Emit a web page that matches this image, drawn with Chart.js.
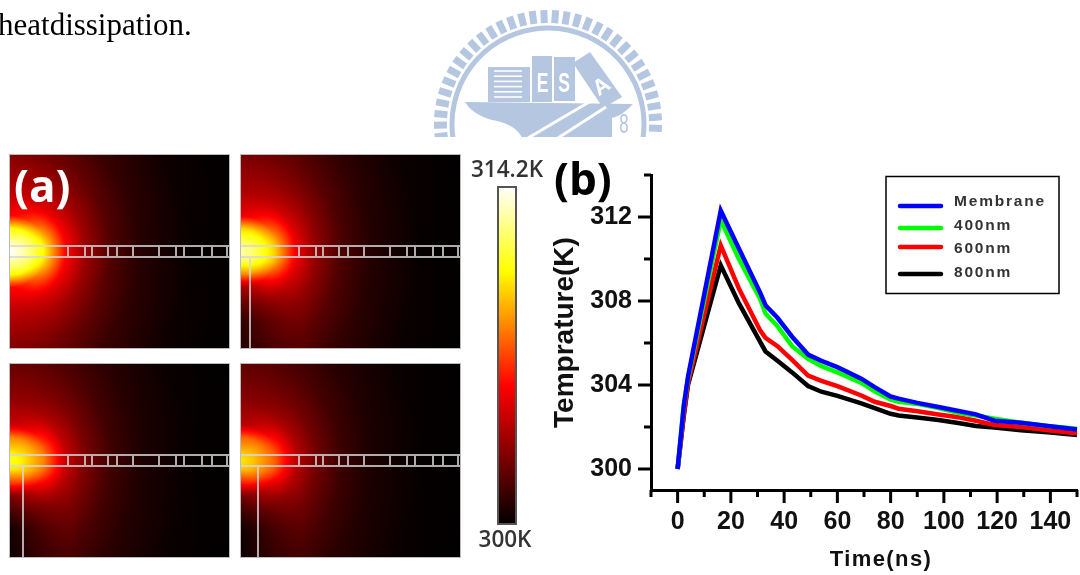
<!DOCTYPE html>
<html><head><meta charset="utf-8">
<style>html,body{margin:0;padding:0;background:#fff;overflow:hidden}canvas{display:block;filter:blur(.4px)}</style>
<script src="https://cdn.jsdelivr.net/npm/chart.js@4"></script></head>
<body><canvas id="c" width="1080" height="575"></canvas>
<script>
const timeNs=[0,2.3,3.9,16.2,23,31,33,37.5,43,49,54,60,69,74,80,83,90,98,106,112,119,129,139,150];
const membrane=[300,303,304.4,312.3,310.5,308.4,307.8,307.2,306.3,305.45,305.15,304.85,304.3,303.9,303.45,303.35,303.15,302.95,302.75,302.6,302.3,302.2,302.05,301.88];
const nm400=[300,303,304.3,311.85,310,308.1,307.4,306.8,305.85,305.25,304.9,304.6,304.1,303.7,303.3,303.2,303.1,302.9,302.65,302.55,302.4,302.2,302.05,301.92];
const nm600=[300,302.6,304.1,310.65,308.6,306.6,306.25,305.85,305.2,304.45,304.2,303.95,303.5,303.2,303,302.87,302.75,302.6,302.45,302.3,302.1,302,301.85,301.7];
const nm800=[300,302.5,304,309.7,307.9,306.05,305.6,305.15,304.6,303.95,303.68,303.48,303.13,302.9,302.63,302.55,302.45,302.33,302.18,302.05,301.98,301.85,301.75,301.62];
const seriesNames=['Membrane','400nm','600nm','800nm'];
const seriesColors=['#0000ff','#00ff00','#ff0000','#000000'];
const xTicks=[-10,0,10,20,30,40,50,60,70,80,90,100,110,120,130,140,150];
const xLabelled=[0,20,40,60,80,100,120,140];
const yTicks=[300,302,304,306,308,310,312,314];
const yLabelled=[300,304,308,312];
const alongRadii=[0,12,33,55,75,100,130,180,240];
const alongLevels=[1,.93,.75,.41,.25,.13,.06,.012,0];
const acrossRadii=[0,8,23,36,60,96,130,180,240];
const acrossLevels=[1,.93,.75,.41,.3,.21,.13,.05,.005];
const panelBoxes=[[10,155],[241,155],[10,364],[241,364]];
const panelPeak=[1,.92,.78,.72];
const panelLower=[1,.3,.15,.12];
const panelSupport=[null,9,13,17];
const beamBars=[58,75,82,98,107,123,149,166,174,192,202,217];
const colorStops=[[0,0,0,0],[.41,255,0,0],[.75,255,255,0],[1,255,255,255]];

function cmap(l){l=Math.max(0,Math.min(1,l));for(let i=1;i<colorStops.length;i++){const a=colorStops[i-1],b=colorStops[i];if(l<=b[0]){const t=(l-a[0])/(b[0]-a[0]);return [a[1]+(b[1]-a[1])*t,a[2]+(b[2]-a[2])*t,a[3]+(b[3]-a[3])*t];}}return [255,255,255];}
function prof(rs,ls,r){for(let i=1;i<rs.length;i++){if(r<=rs[i]){const t=(r-rs[i-1])/(rs[i]-rs[i-1]);return ls[i-1]+(ls[i]-ls[i-1])*t;}}return 0;}
function drawPanel(ctx,i){
 const W=219,H=193,cy=96;const off=document.createElement('canvas');off.width=W;off.height=H;const o=off.getContext('2d');const im=o.createImageData(W,H);
 for(let y=0;y<H;y++)for(let x=0;x<W;x++){const dx=x,dy=y-cy,r=Math.hypot(dx,dy),c2=r?dx*dx/(r*r):1;
  let v=(prof(alongRadii,alongLevels,r)*c2+prof(acrossRadii,acrossLevels,r)*(1-c2))*panelPeak[i];
  if(dy>0){const w=Math.min(1,Math.max(0,(dy-10)/60)),xw=Math.min(1,Math.max(0,1-dx/60));v*=1-w*xw*(1-panelLower[i]);}
  const c=cmap(v),p=(y*W+x)*4;im.data[p]=c[0];im.data[p+1]=c[1];im.data[p+2]=c[2];im.data[p+3]=255;}
 o.putImageData(im,0,0);
 const [bx,by]=panelBoxes[i];ctx.drawImage(off,bx,by);
 ctx.strokeStyle='rgba(215,215,215,.8)';ctx.lineWidth=2;ctx.beginPath();
 ctx.moveTo(bx,by+91);ctx.lineTo(bx+W,by+91);ctx.moveTo(bx,by+102);ctx.lineTo(bx+W,by+102);
 beamBars.forEach(b=>{ctx.moveTo(bx+b,by+91);ctx.lineTo(bx+b,by+102);});
 if(panelSupport[i]!==null){ctx.moveTo(bx+panelSupport[i],by+102);ctx.lineTo(bx+panelSupport[i],by+H);}
 ctx.stroke();
 ctx.strokeStyle='rgba(170,170,170,.8)';ctx.lineWidth=1;ctx.strokeRect(bx-.5,by-.5,W+1,H+1);
}
function drawLogo(ctx){
 const col='#b4c6e0';ctx.save();ctx.beginPath();ctx.rect(425,0,250,137);ctx.clip();
 const cx=548,cy=124;ctx.strokeStyle=col;
 ctx.lineWidth=5;ctx.beginPath();ctx.arc(cx,cy,96,Math.PI*.95,Math.PI*2.05);ctx.stroke();
 ctx.lineWidth=7;
 for(let a=-96.5;a<=96.5;a+=5.9){const t=(a-90)*Math.PI/180;ctx.beginPath();ctx.moveTo(cx+101*Math.cos(t),cy+101*Math.sin(t));ctx.lineTo(cx+114*Math.cos(t),cy+114*Math.sin(t));ctx.stroke();}
 ctx.fillStyle=col;
 ctx.fillRect(488,67,42,35);ctx.fillRect(532,56,20,46);ctx.fillRect(554,57,21,44);
 ctx.beginPath();ctx.moveTo(590,52);ctx.lineTo(622,97);ctx.lineTo(603,108);ctx.lineTo(573,63);ctx.closePath();ctx.fill();
 ctx.beginPath();ctx.moveTo(465,102);ctx.lineTo(633,104);ctx.quadraticCurveTo(622,116,612,118);ctx.lineTo(612,138);ctx.lineTo(522,138);ctx.quadraticCurveTo(516,124,492,120);ctx.quadraticCurveTo(472,114,465,102);ctx.closePath();ctx.fill();
 ctx.strokeStyle='#fff';ctx.lineWidth=1.6;for(let y=71;y<100;y+=5.2){ctx.beginPath();ctx.moveTo(494,y);ctx.lineTo(522,y);ctx.stroke();}
 ctx.lineWidth=3;ctx.beginPath();ctx.moveTo(528,138);ctx.lineTo(596,98);ctx.moveTo(558,138);ctx.lineTo(606,107);ctx.stroke();
 ctx.fillStyle='#fff';ctx.textAlign='center';ctx.textBaseline='middle';ctx.font='bold 27px "Liberation Sans"';
 [['E',542.5,85],['S',564,85]].forEach(t=>{ctx.save();ctx.translate(t[1],t[2]);ctx.scale(.65,1);ctx.fillText(t[0],0,0);ctx.restore();});
 ctx.save();ctx.translate(602,87);ctx.rotate(-.6);ctx.font='bold 22px "Liberation Sans"';ctx.fillText('A',0,0);ctx.restore();
 ctx.fillStyle=col;ctx.font='28px "Liberation Sans"';ctx.save();ctx.translate(624,125);ctx.scale(.6,1);ctx.fillText('8',0,0);ctx.restore();
 ctx.restore();
}
const sceneBack={id:'sceneBack',beforeDraw(ch){const ctx=ch.ctx;ctx.save();
 ctx.fillStyle='#fff';ctx.fillRect(0,0,1080,575);
 ctx.fillStyle='#000';ctx.font='31px "Liberation Serif"';ctx.textBaseline='alphabetic';ctx.textAlign='left';ctx.fillText('heatdissipation.',-2,35);
 drawLogo(ctx);
 for(let i=0;i<4;i++)drawPanel(ctx,i);
 ctx.fillStyle='#fff';ctx.font='bold 44px "Open Sans"';ctx.textBaseline='alphabetic';ctx.fillText('(a)',14,202);
 const g=ctx.createLinearGradient(0,525,0,186);colorStops.forEach(s=>g.addColorStop(s[0],`rgb(${s[1]},${s[2]},${s[3]})`));
 ctx.fillStyle=g;ctx.fillRect(498,187,18,337);ctx.strokeStyle='#555';ctx.lineWidth=2;ctx.strokeRect(498,187,18,337);
 ctx.fillStyle='#333';ctx.font='600 22.5px "Open Sans"';ctx.textAlign='center';ctx.textBaseline='middle';
 ctx.fillText('314.2K',507,171);ctx.fillText('300K',505,541);
 ctx.fillStyle='#000';ctx.font='bold 44px "Open Sans"';ctx.textAlign='left';ctx.textBaseline='alphabetic';ctx.fillText('(b)',554,195);
 ctx.restore();}};
const sceneFront={id:'sceneFront',afterDraw(ch){const ctx=ch.ctx;ctx.save();ctx.strokeStyle='#000';ctx.lineWidth=3;
 const x=ch.scales.x,y=ch.scales.y,a=ch.chartArea;
 xTicks.forEach(v=>{const p=x.getPixelForValue(v),l=v%20===0?13:7;ctx.beginPath();ctx.moveTo(p,a.bottom);ctx.lineTo(p,a.bottom+l);ctx.stroke();});
 yTicks.forEach(v=>{const p=y.getPixelForValue(v),l=v%4===0?13:7;ctx.beginPath();ctx.moveTo(a.left,p);ctx.lineTo(a.left-l,p);ctx.stroke();});
 ctx.fillStyle='#111';ctx.font='bold 22px "Liberation Sans"';ctx.letterSpacing='1.4px';ctx.textAlign='center';ctx.textBaseline='middle';ctx.fillText('Time(ns)',881,560);
 ctx.lineWidth=1.5;ctx.strokeStyle='#000';ctx.strokeRect(886,176.5,173,117);
 const ly=[202,226,249,273],ll=[206,228,247,274];
 seriesNames.forEach((n,i)=>{ctx.strokeStyle=seriesColors[i];ctx.lineWidth=4.5;ctx.lineCap='round';ctx.beginPath();ctx.moveTo(900,ll[i]);ctx.lineTo(941,ll[i]);ctx.stroke();
  ctx.fillStyle='#333';ctx.font='bold 15.5px "Liberation Sans"';ctx.letterSpacing='1.8px';ctx.textBaseline='middle';ctx.textAlign='left';ctx.fillText(n,954,ly[i]);});
 ctx.restore();}};
const ds=[membrane,nm400,nm600,nm800].map((d,i)=>({label:seriesNames[i],data:d.map((v,j)=>({x:timeNs[j],y:v})),borderColor:seriesColors[i],borderWidth:4.5,pointRadius:0,tension:0,fill:false}));
new Chart(document.getElementById('c'),{type:'line',data:{datasets:ds},plugins:[sceneBack,sceneFront],options:{
 responsive:false,animation:false,clip:false,
 layout:{padding:{left:548,top:175,right:3,bottom:0}},
 plugins:{legend:{display:false},tooltip:{enabled:false}},
 scales:{
  x:{type:'linear',min:-10,max:150,afterFit:s=>{s.height=85;s.paddingLeft=0;s.paddingRight=0},afterBuildTicks:s=>{s.ticks=xTicks.map(v=>({value:v}))},
   grid:{display:false},border:{display:true,width:3,color:'#000'},
   ticks:{autoSkip:false,maxRotation:0,padding:9,color:'#111',font:{family:'Liberation Sans',weight:'bold',size:25},callback:v=>xLabelled.includes(v)?String(v):''}},
  y:{type:'linear',min:299,max:314,afterFit:s=>{s.width=103;s.paddingTop=0;s.paddingBottom=0},afterBuildTicks:s=>{s.ticks=yTicks.map(v=>({value:v}))},
   grid:{display:false},border:{display:true,width:3,color:'#000'},
   ticks:{autoSkip:false,padding:11,color:'#111',font:{family:'Liberation Sans',weight:'bold',size:25},callback:v=>yLabelled.includes(v)?String(v):''},
   title:{display:true,text:'Temprature(K)',color:'#111',font:{family:'Liberation Sans',weight:'bold',size:28},padding:{top:0,bottom:0}}}
 }}});
</script></body></html>
